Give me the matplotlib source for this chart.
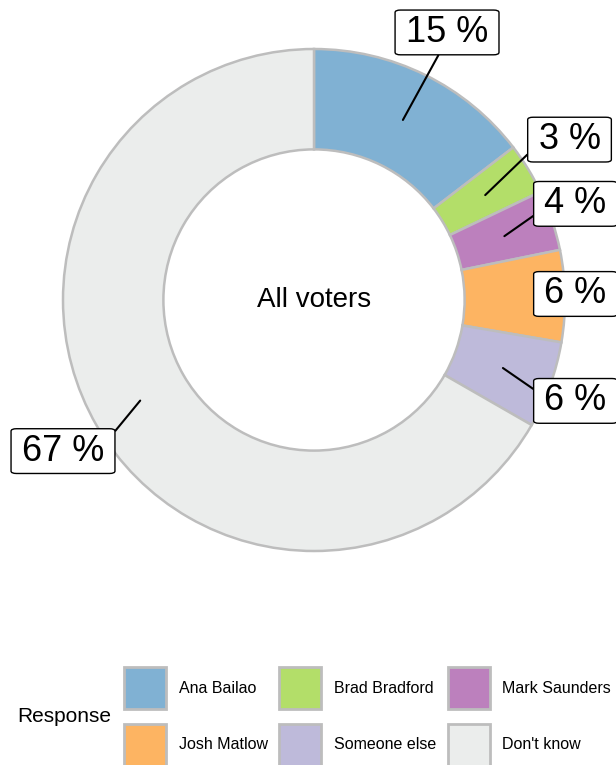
import numpy as np
import matplotlib.pyplot as plt
from matplotlib.patches import Patch

plt.rcParams['font.family'] = ['Liberation Sans', 'DejaVu Sans']

responses = ['Ana Bailao', 'Brad Bradford', 'Mark Saunders',
             'Josh Matlow', 'Someone else', "Don't know"]
shares = [14.6, 3.3, 3.9, 5.9, 5.6, 66.7]
colors = ['#80b1d3', '#b3de69', '#bc80bd', '#fdb462', '#bebada', '#ebedec']
# label box centres (data units, pie radius = 1) and where the leader meets the box
label_pos = [(0.53, 1.066), (1.018, 0.639), (1.042, 0.383),
             (1.042, 0.024), (1.042, -0.402), (-1.0, -0.602)]
leader_rel = [(0.43, 0), (0, 0.38), (0, 0.38), None, (0, 0.62), (1, 0.69)]

W, H = 616, 765
fig = plt.figure(figsize=(W / 100, H / 100), dpi=100)
cx, cy, R = 314, 300, 251
ax = fig.add_axes([(cx - R) / W, (H - cy - R) / H, 2 * R / W, 2 * R / H])

ax.pie(shares, colors=colors, startangle=90, counterclock=False, radius=1,
       wedgeprops=dict(width=0.4, edgecolor='#bdbdbd', linewidth=1.8))
ax.set_xlim(-1, 1)
ax.set_ylim(-1, 1)
ax.set_aspect('equal')
ax.axis('off')

ax.text(0, 0, 'All voters', ha='center', va='center', fontsize=20)

total = sum(shares)
cum = np.cumsum([0] + shares[:-1])
for s, c0, (lx, ly), rel in zip(shares, cum, label_pos, leader_rel):
    mid = (c0 + s / 2) / total * 2 * np.pi
    px, py = 0.8 * np.sin(mid), 0.8 * np.cos(mid)
    arrow = None
    if rel is not None:
        arrow = dict(arrowstyle='-', color='black', lw=1.5, relpos=rel,
                     shrinkA=0, shrinkB=0)
    ax.annotate('%d %%' % round(s), xy=(px, py), xytext=(lx, ly),
                ha='center', va='center', fontsize=26, annotation_clip=False,
                bbox=dict(boxstyle='round,pad=0.3,rounding_size=0.15',
                          mutation_aspect=0.45, fc='white', ec='black', lw=1),
                arrowprops=arrow)

handles = [Patch(facecolor=c, edgecolor='#bdbdbd', linewidth=2, label=r)
           for c, r in zip(colors, responses)]
order = [0, 3, 1, 4, 2, 5]
fig.legend([handles[i] for i in order], [responses[i] for i in order],
           ncol=3, loc='center left', bbox_to_anchor=(124 / W, 1 - 716.5 / H),
           frameon=False, fontsize=11.5, handlelength=2.64, handleheight=3.69,
           handletextpad=0.8, columnspacing=0.7, labelspacing=0.9,
           borderpad=0, borderaxespad=0)
fig.text(17 / W, 1 - 716 / H, 'Response', ha='left', va='center', fontsize=15)

fig.savefig('out.png', dpi=100)
